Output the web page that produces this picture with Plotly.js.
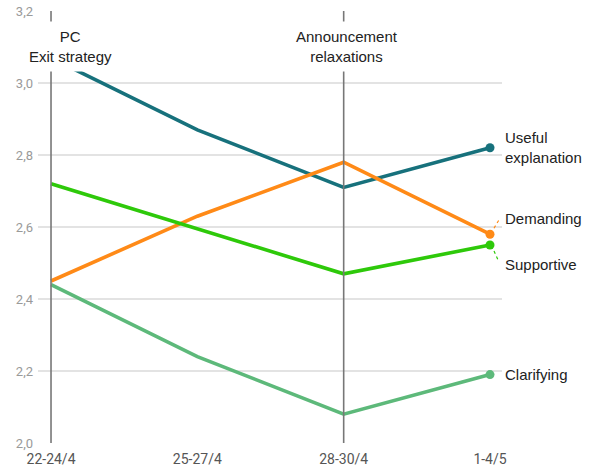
<!DOCTYPE html>
<html>
<head>
<meta charset="utf-8">
<script src="https://cdn.plot.ly/plotly-3.0.1.min.js"></script>
<style>html,body{margin:0;padding:0;background:#fff}#chart{width:592px;height:470px}</style>
</head>
<body>
<div id="chart"></div>
<script>
// ---- data ----
const categories = ['22-24/4', '25-27/4', '28-30/4', '1-4/5'];
const seriesNames = ['Useful<br>explanation', 'Demanding', 'Supportive', 'Clarifying'];
const usefulExplanation = [3.07, 2.87, 2.71, 2.82];
const demanding = [2.45, 2.63, 2.78, 2.58];
const supportive = [2.72, 2.595, 2.47, 2.55];
const clarifying = [2.44, 2.24, 2.08, 2.19];
const eventCategories = ['22-24/4', '28-30/4'];
const eventLabels = ['PC<br>Exit strategy', 'Announcement<br>relaxations'];
const yTicks = [2.0, 2.2, 2.4, 2.6, 2.8, 3.0, 3.2];

// ---- styles ----
const seriesValues = [usefulExplanation, demanding, supportive, clarifying];
const colors = ['#17717c', '#ff8a17', '#2ec90a', '#5db97a'];
const labelShift = [0, 16, -19, 0];
const leader = [null, [4, 6, 10, 16], [4, -6, 9, -17], null];
const eventShift = [19, 3];

const last = categories.length - 1;
const traces = [];
seriesValues.forEach((vals, i) => {
  traces.push({
    x: categories, y: vals, type: 'scatter', mode: 'lines',
    line: {color: colors[i], width: 3.6}, hoverinfo: 'skip', showlegend: false
  });
  traces.push({
    x: [categories[last]], y: [vals[last]], type: 'scatter', mode: 'markers',
    marker: {color: colors[i], size: 9}, hoverinfo: 'skip', showlegend: false
  });
});

const annotations = [];
const shapes = [];
seriesValues.forEach((vals, i) => {
  annotations.push({
    x: categories[last], y: vals[last], xref: 'x', yref: 'y',
    text: seriesNames[i], showarrow: false, xanchor: 'left', yanchor: 'middle',
    align: 'left', xshift: 13, yshift: labelShift[i],
    font: {family: 'Liberation Sans, Arial, sans-serif', size: 15, color: '#222'}
  });
  if (leader[i]) {
    shapes.push({
      type: 'line', xref: 'x', yref: 'y',
      xsizemode: 'pixel', ysizemode: 'pixel',
      xanchor: categories[last], yanchor: vals[last],
      x0: leader[i][0], x1: leader[i][2], y0: leader[i][1], y1: leader[i][3],
      line: {color: colors[i], width: 1.2, dash: 'dot'}
    });
  }
});
eventCategories.forEach((c, i) => {
  shapes.push({
    type: 'line', xref: 'x', yref: 'y', x0: c, x1: c,
    y0: yTicks[0], y1: yTicks[yTicks.length - 1],
    line: {color: '#777', width: 1.6}, layer: 'above'
  });
  annotations.push({
    x: c, y: 0.918, xref: 'x', yref: 'paper', text: eventLabels[i],
    showarrow: false, xanchor: 'center', yanchor: 'middle', xshift: eventShift[i],
    bgcolor: '#fff', borderpad: 6,
    font: {family: 'Liberation Sans, Arial, sans-serif', size: 15, color: '#222'}
  });
});

const layout = {
  width: 592, height: 470,
  margin: {l: 38, r: 90, t: 11, b: 27},
  paper_bgcolor: '#fff', plot_bgcolor: '#fff',
  separators: ',.',
  xaxis: {
    type: 'category', range: [-0.089, 3.082], showgrid: false, zeroline: false,
    showline: false, ticks: '', ticklabelstandoff: 6,
    tickfont: {family: 'Roboto, sans-serif', size: 14, color: '#555'}
  },
  yaxis: {
    range: [yTicks[0], yTicks[yTicks.length - 1]], tickvals: yTicks, tickformat: '.1f',
    showgrid: true, gridcolor: '#e3e3e3', gridwidth: 1.2, zeroline: false, showline: false,
    ticks: '', ticklabelstandoff: 4,
    tickfont: {family: 'Roboto, sans-serif', size: 13, color: '#9a9a9a'}
  },
  shapes: shapes,
  annotations: annotations
};

Plotly.newPlot('chart', traces, layout, {staticPlot: true, displayModeBar: false});
</script>
</body>
</html>
